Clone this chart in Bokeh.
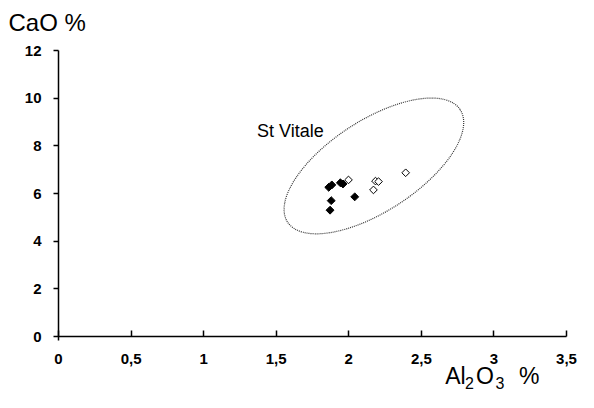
import numpy as np
from bokeh.plotting import figure
from bokeh.models import Label, FixedTicker
from bokeh.core.properties import value
from bokeh.embed import file_html
from bokeh.resources import INLINE

# --- data ---
filled_x = [1.862, 1.883, 1.942, 1.960, 1.879, 1.871, 2.041]
filled_y = [6.26, 6.36, 6.45, 6.40, 5.70, 5.30, 5.86]
open_x = [1.998, 2.184, 2.205, 2.170, 2.392]
open_y = [6.57, 6.52, 6.50, 6.15, 6.87]

x_ticks = [0, 0.5, 1, 1.5, 2, 2.5, 3, 3.5]
x_tick_labels = ["0", "0,5", "1", "1,5", "2", "2,5", "3", "3,5"]
y_ticks = [0, 2, 4, 6, 8, 10, 12]
y_tick_labels = ["0", "2", "4", "6", "8", "10", "12"]

group_name = "St Vitale"
group_label_x = [1.368]
group_label_y = [8.61]
ellipse_center_x = [2.173]
ellipse_center_y = [7.157]

FONT = "Liberation Sans"

W, H = 578, 392
X0_PX, X_SCALE = 58.0, 145.14      # canvas px of x=0, px per unit
Y0_PX, Y_SCALE = 336.0, 23.833     # canvas px (from top) of y=0, px per unit

p = figure(
    width=W, height=H,
    x_range=(-X0_PX / X_SCALE, (W - X0_PX) / X_SCALE),
    y_range=((Y0_PX - H) / Y_SCALE, Y0_PX / Y_SCALE),
    output_backend="svg", toolbar_location=None,
    min_border=0, min_border_left=0, min_border_right=0,
    min_border_top=0, min_border_bottom=0,
)
p.outline_line_color = None
p.grid.visible = False
p.background_fill_color = "white"
p.border_fill_color = "white"

# axes drawn at x=0 / y=0 inside the frame
p.xaxis.fixed_location = 0
p.yaxis.fixed_location = 0
p.xaxis.bounds = (0, 3.5)
p.yaxis.bounds = (-0.17, 12)
p.xaxis.ticker = FixedTicker(ticks=x_ticks)
p.xaxis.major_label_overrides = {float(t): l for t, l in zip(x_ticks, x_tick_labels)}
p.yaxis.ticker = FixedTicker(ticks=y_ticks)
p.yaxis.major_label_overrides = {float(t): l for t, l in zip(y_ticks, y_tick_labels)}
for ax in (p.xaxis, p.yaxis):
    ax.axis_line_color = "black"
    ax.axis_line_width = 1.5
    ax.major_tick_line_color = "black"
    ax.major_tick_line_width = 1.5
    ax.minor_tick_line_color = None
    ax.major_label_text_font = FONT
    ax.major_label_text_font_style = "bold"
    ax.major_label_text_font_size = "15px"
    ax.major_label_text_color = "black"
p.xaxis.major_tick_in = 6
p.xaxis.major_tick_out = 0
p.xaxis.major_label_standoff = 17
p.yaxis.major_tick_in = 0
p.yaxis.major_tick_out = 5
p.yaxis.major_label_standoff = 12

# ellipse (dotted)
p.ellipse(x=ellipse_center_x, y=ellipse_center_y, width=206, height=91,
          angle=0.577, width_units="screen", height_units="screen",
          fill_color=None, line_color="#333333", line_width=1.2, line_dash="1 1")

# points
p.scatter(filled_x, filled_y, marker="square", angle=np.pi / 4, size=5.6,
          fill_color="black", line_color="black", line_width=1)
p.scatter(open_x, open_y, marker="square", angle=np.pi / 4, size=5.4,
          fill_color="white", line_color="black", line_width=1)

# group label
p.text(x=group_label_x, y=group_label_y, text=[group_name],
       text_font=value(FONT), text_font_size="18px", text_color="black",
       text_baseline="alphabetic", text_align="left")

# axis titles (screen units)
p.add_layout(Label(x=8, y=H - 22, x_units="screen", y_units="screen", text="CaO %",
                   text_font=FONT, text_font_size="24px", text_color="black",
                   text_baseline="alphabetic"))
parts = [("Al", 444.7, 17, "23px"), ("2", 464.5, 10, "16px"), ("O", 475.5, 17, "23px"),
         ("3", 495.0, 10, "16px"), ("%", 518.5, 17, "23px")]
for txt, sx, sy, fs in parts:
    p.add_layout(Label(x=sx, y=sy, x_units="screen", y_units="screen", text=txt,
                       text_font=FONT, text_font_size=fs, text_color="black",
                       text_baseline="alphabetic"))

open("out.html", "w").write(file_html(p, INLINE))
